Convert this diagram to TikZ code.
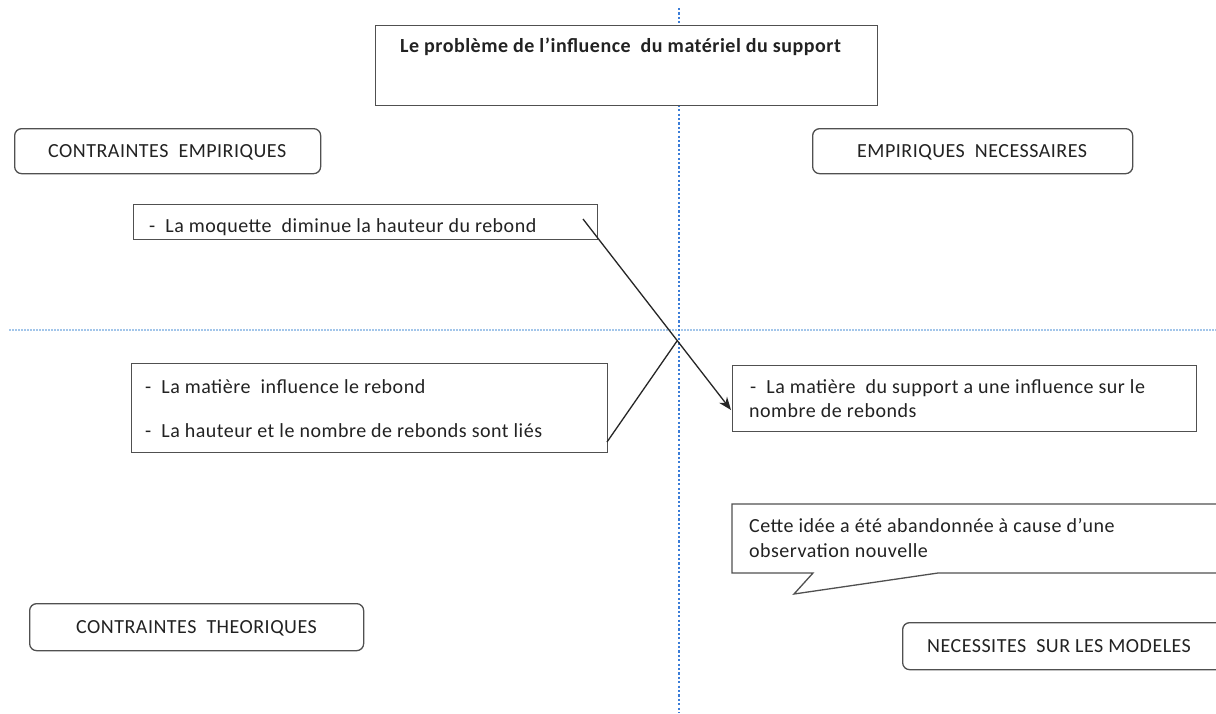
\documentclass[tikz,border=0pt]{standalone}
\usepackage{fontspec}
\setmainfont{Carlito}
\newfontfamily\spacedfont[LetterSpace=2.5]{Carlito}
\usetikzlibrary{arrows.meta}
\definecolor{vblue}{HTML}{3B7DD8}
\definecolor{hblue}{HTML}{A3C6EA}
\definecolor{boxgray}{HTML}{505050}
\definecolor{txtgray}{HTML}{222222}
\begin{document}
\begin{tikzpicture}[x=1pt,y=-1pt,
  box/.style={draw=boxgray, fill=white, line width=1.3pt, inner sep=0pt, anchor=north west},
  rbox/.style={box, rounded corners=7pt},
  txt/.style={anchor=base west, inner sep=0pt, text=txtgray, font=\spacedfont\fontsize{20}{24}\selectfont},
  ttl/.style={txt, font=\spacedfont\bfseries\fontsize{20}{24}\selectfont},
  vdot/.style={draw=vblue, line width=2.4pt, dash pattern=on 2.2pt off 2.2pt},
  hdot/.style={draw=hblue, line width=1.3pt, dash pattern=on 1.5pt off 1.5pt},
  conn/.style={draw=black!85, line width=1.3pt},
  arr/.style={conn, -{Stealth[length=13pt,width=10pt]}}]
\useasboundingbox (0,0) rectangle (1216,713);
\fill[white] (0,0) rectangle (1216,713);
% axes
\coordinate (vtop) at (679,8);
\coordinate (vbot) at (679,713);
\coordinate (hleft) at (9,330);
\coordinate (hright) at (1216,330);
\draw[hdot] (hleft) -- (hright);
\draw[vdot] (vtop) -- (vbot);
% title
\node[box, minimum width=502pt, minimum height=80pt] (title) at (375,25) {};
\node[ttl] (titletxt) at (400,52) {Le problème de l’influence\ \ du matériel du support};
% category boxes
\node[rbox, minimum width=306pt, minimum height=45pt] (ce) at (14,128) {};
\node[txt] (cetxt) at (48,157) {CONTRAINTES\ \ EMPIRIQUES};
\node[rbox, minimum width=320pt, minimum height=45pt] (en) at (812,128) {};
\node[txt] (entxt) at (857,157) {EMPIRIQUES\ \ NECESSAIRES};
\node[rbox, minimum width=334pt, minimum height=47pt] (ct) at (29,603) {};
\node[txt] (cttxt) at (76,633) {CONTRAINTES\ \ THEORIQUES};
\node[rbox, minimum width=330pt, minimum height=47pt] (nm) at (902,622) {};
\node[txt] (nmtxt) at (927,652) {NECESSITES\ \ SUR LES MODELES};
% content boxes
\node[box, minimum width=464pt, minimum height=35pt] (moq) at (133,204) {};
\node[txt] (moqtxt) at (149,232) {-\ \ La moquette\ \ diminue la hauteur du rebond};
\node[box, minimum width=476pt, minimum height=89pt] (mat) at (131,363) {};
\node[txt] (mat1) at (145,393) {-\ \ La matière\ \ influence le rebond};
\node[txt] (mat2) at (145,437) {-\ \ La hauteur et le nombre de rebonds sont liés};
\node[box, minimum width=464pt, minimum height=66pt] (sup) at (732,365) {};
\node[txt] (sup1) at (750,393) {-\ \ La matière\ \ du support a une influence sur le};
\node[txt] (sup2) at (749,417) {nombre de rebonds};
% callout
\draw[draw=boxgray, fill=white, line width=1.3pt] (732,504) -- (1222,504) -- (1222,573) -- (938,573) -- (794,594) -- (813,573) -- (732,573) -- cycle;
\node[txt] (cal1) at (749,532) {Cette idée a été abandonnée à cause d’une};
\node[txt] (cal2) at (749,557) {observation nouvelle};
% connectors
\coordinate (mstart) at (583,219);
\coordinate (cross) at (677,341);
\coordinate (mtip) at (731,410);
\coordinate (bstart) at (607,442);
\draw[arr] (mstart) -- (mtip);
\draw[conn] (bstart) -- (cross);
\end{tikzpicture}
\end{document}
